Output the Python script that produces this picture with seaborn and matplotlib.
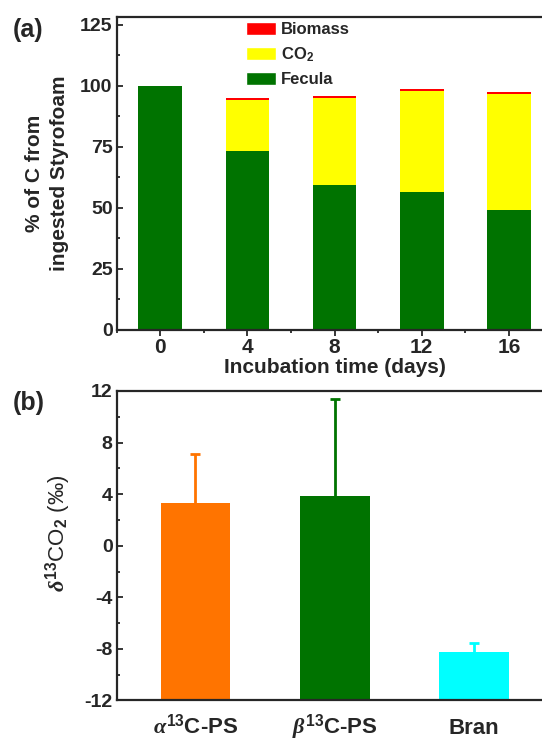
import numpy as np
import pandas as pd
import matplotlib
matplotlib.use("Agg")
import matplotlib.pyplot as plt
from matplotlib.ticker import MultipleLocator
from matplotlib.patches import Patch
import seaborn as sns

# (a) carbon fate of ingested Styrofoam, % of C
days = [0, 4, 8, 12, 16]
fecula = [100, 73.4, 59.4, 56.4, 48.9]
co2 = [0, 20.7, 35.7, 41.3, 47.6]
biomass = [0, 0.7, 0.7, 1.0, 0.9]

# (b) d13CO2 per feed, per mil
sources = ["alpha", "beta", "bran"]
source_labels = [r"$\alpha^{\mathbf{13}}$C-PS", r"$\beta^{\mathbf{13}}$C-PS", "Bran"]
d13co2 = [3.33, 3.88, -8.26]
d13co2_err = [3.78, 7.49, 0.70]
source_colors = ["#FF7400", "#007300", "#00FFFF"]
BASE = -12

sns.set_style("ticks")
plt.rcParams["font.family"] = ["Liberation Sans", "DejaVu Sans"]
plt.rcParams["font.weight"] = "bold"
plt.rcParams["axes.unicode_minus"] = False
plt.rcParams["mathtext.fontset"] = "custom"
plt.rcParams["mathtext.rm"] = "Liberation Sans"
plt.rcParams["mathtext.bf"] = "Liberation Sans:bold"
plt.rcParams["mathtext.it"] = "Liberation Serif:italic"

fig = plt.figure(figsize=(5.42, 7.41), dpi=100)
ax1 = fig.add_axes([0.2153, 0.5551, 0.804, 0.4216])
ax2 = fig.add_axes([0.2153, 0.0547, 0.805, 0.4177])

# ---- panel (a): stacked bars, drawn back to front
df = pd.DataFrame({"day": days, "fecula": fecula, "co2": co2, "biomass": biomass})
df["co2_top"] = df["fecula"] + df["co2"]
df["bio_top"] = df["co2_top"] + df["biomass"]

for col, colr in [("bio_top", "#FF0000"), ("co2_top", "#FFFF00"), ("fecula", "#007300")]:
    sns.barplot(data=df, x="day", y=col, color=colr, saturation=1, linewidth=0,
                native_scale=True, width=0.5, ax=ax1)

ax1.set_xlim(-2, 18)
ax1.set_ylim(0, 128)
ax1.set_xticks(days)
ax1.set_xticklabels([str(d) for d in days])
ax1.set_yticks([0, 25, 50, 75, 100, 125])
ax1.xaxis.set_minor_locator(MultipleLocator(2))
ax1.yaxis.set_minor_locator(MultipleLocator(12.5))
ax1.tick_params(axis="y", which="major", direction="in", length=4, width=1.3, labelsize=14, pad=3)
ax1.tick_params(axis="y", which="minor", direction="in", length=2.5, width=1.3)
ax1.tick_params(axis="x", which="major", direction="out", length=4, width=1.3, labelsize=15, pad=2)
ax1.tick_params(axis="x", which="minor", direction="out", length=2.5, width=1.3)
ax1.set_xlabel("Incubation time (days)", fontsize=15, fontweight="bold", labelpad=1)
ax1.set_ylabel("% of C from\ningested Styrofoam", fontsize=15, fontweight="bold",
               linespacing=1.4, labelpad=8)

handles = [Patch(facecolor="#FF0000"), Patch(facecolor="#FFFF00"), Patch(facecolor="#007300")]
ax1.legend(handles, ["Biomass", r"CO$_\mathbf{2}$", "Fecula"], loc="upper left",
           bbox_to_anchor=(0.278, 1.012), frameon=False, fontsize=12, borderpad=0,
           handlelength=1.8, handleheight=0.8, handletextpad=0.3, labelspacing=0.5)

# ---- panel (b): bars rising from the bottom of the axis
sns.barplot(x=sources, y=d13co2, hue=sources, palette=source_colors, saturation=1,
            width=0.5, linewidth=0, legend=False, ax=ax2)
for p in ax2.patches:
    top = p.get_y() + p.get_height()
    p.set_y(BASE)
    p.set_height(top - BASE)
    p.set_zorder(2)

# upper error bars only
for i, (v, e, c) in enumerate(zip(d13co2, d13co2_err, source_colors)):
    eb = ax2.errorbar(i, v, yerr=[[0], [e]], fmt="none", ecolor=c, elinewidth=2,
                      capsize=3.5, capthick=2, zorder=1.5)
    for cap in eb[1]:
        if np.isclose(cap.get_ydata()[0], v):
            cap.remove()

ax2.set_xlim(-0.565, 2.565)
ax2.set_ylim(-12, 12)
ax2.set_yticks([-12, -8, -4, 0, 4, 8, 12])
ax2.yaxis.set_minor_locator(MultipleLocator(2))
ax2.set_xticks(range(len(sources)))
ax2.set_xticklabels(source_labels)
for lab in ax2.get_xticklabels():
    lab.set_va("baseline")
ax2.tick_params(axis="x", length=0, labelsize=16, pad=24)
ax2.tick_params(axis="y", which="major", direction="in", length=4, width=1.3, labelsize=14, pad=3)
ax2.tick_params(axis="y", which="minor", direction="in", length=2.5, width=1.3)
ax2.set_ylabel(r"$\delta^{13}$CO$_2$ (‰)", fontsize=16, fontweight="normal")
ax2.yaxis.set_label_coords(-0.1, 0.54)

for ax in (ax1, ax2):
    for s in ax.spines.values():
        s.set_linewidth(1.6)
        s.set_visible(True)
        s.set_zorder(3)

fig.text(0.024, 0.976, "(a)", fontsize=18, fontweight="bold", va="top")
fig.text(0.024, 0.472, "(b)", fontsize=18, fontweight="bold", va="top")

fig.savefig("out.png", dpi=100)
